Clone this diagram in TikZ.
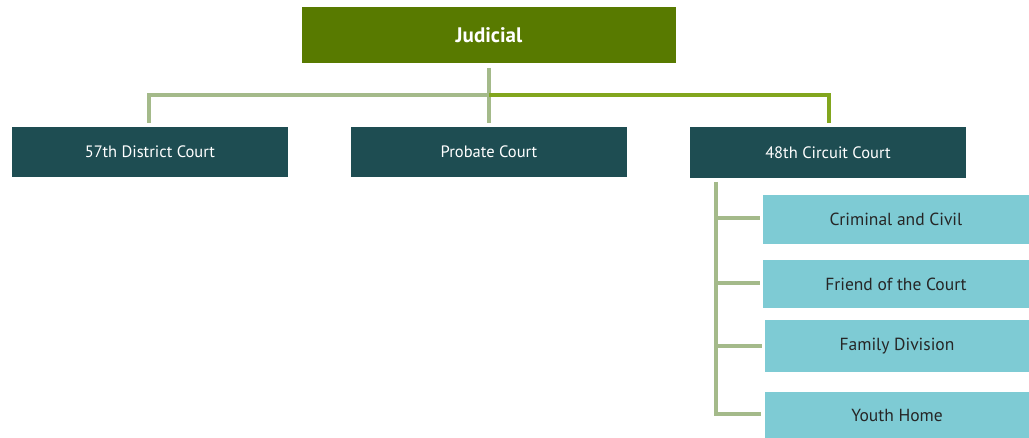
\documentclass[tikz,border=0pt]{standalone}
\usepackage{fontspec}
\setmainfont{PT Sans}
\definecolor{topgreen}{HTML}{587A00}
\definecolor{darkteal}{HTML}{1E4D52}
\definecolor{lightteal}{HTML}{7ECBD4}
\definecolor{sage}{HTML}{A4BA8A}
\definecolor{brightgreen}{HTML}{82A61E}
\tikzset{
  topbox/.style={fill=topgreen, text=white, inner sep=0pt, font=\bfseries\fontsize{21}{24}\selectfont, minimum width=374pt, minimum height=56pt},
  midbox/.style={fill=darkteal, text=white, inner sep=0pt, font=\fontsize{16.5}{19}\selectfont, minimum width=276pt, minimum height=50pt},
  subbox/.style={fill=lightteal, text=black!85, inner sep=0pt, font=\fontsize{17.5}{20}\selectfont, minimum height=48pt},
  conn/.style={draw=sage, line width=3.2pt},
  connb/.style={draw=brightgreen, line width=3.2pt}
}
\begin{document}
\begin{tikzpicture}[x=1pt,y=-1pt]
\useasboundingbox (0,0) rectangle (1029,438);
\node[topbox] (jud) at (489,35) {Judicial};
\node[midbox] (dist) at (150,152) {57th District Court};
\node[midbox] (prob) at (489,152) {Probate Court};
\node[midbox, minimum height=51pt] (circ) at (828,152.5) {48th Circuit Court};
\node[subbox, minimum width=266pt, minimum height=49pt] (crim) at (896,219.5) {Criminal and Civil};
\node[subbox, minimum width=266pt] (friend) at (896,284) {Friend of the Court};
\node[subbox, minimum width=264pt, minimum height=52pt] (fam) at (897,346) {Family Division};
\node[subbox, minimum width=264pt, minimum height=46pt] (youth) at (897,415) {Youth Home};
\coordinate (hub) at (489,95);
\draw[conn] (489,68) -- (hub);
\draw[conn] (hub) -- (489,123);
\draw[conn] (hub) -- (149,95) -- (149,123);
\draw[connb] (hub) -- (829,95) -- (829,123);
\coordinate (stem) at (716,182);
\draw[conn] (stem) -- (716,414) -- (761,414);
\draw[conn] (716,218) -- (760,218);
\draw[conn] (716,283) -- (760,283);
\draw[conn] (716,346) -- (762,346);
\end{tikzpicture}
\end{document}
